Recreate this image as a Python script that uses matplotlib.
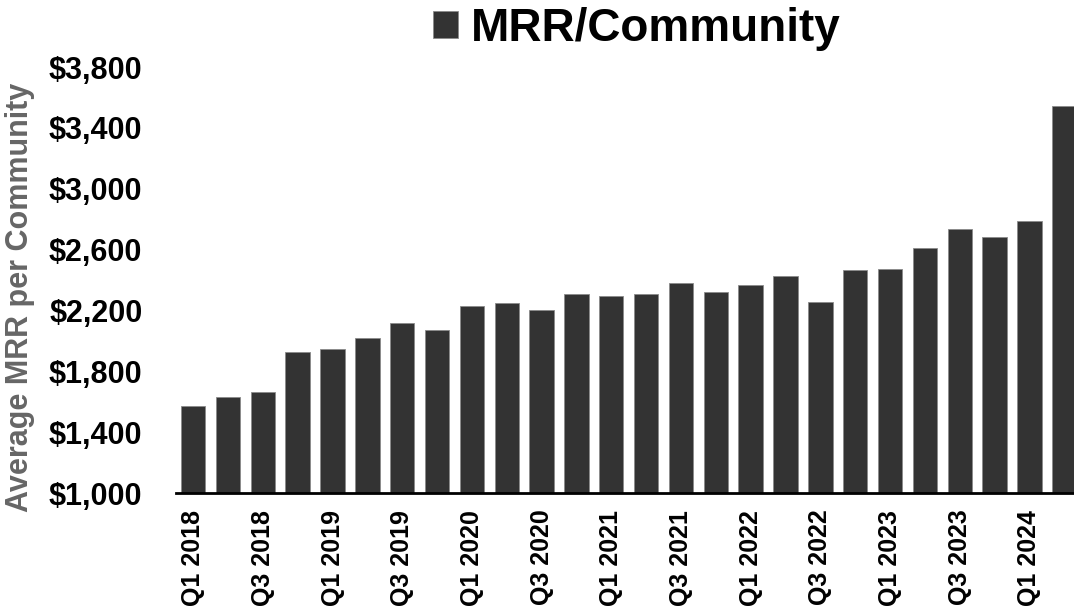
import matplotlib
matplotlib.use("Agg")
import matplotlib.pyplot as plt
from matplotlib.patches import Patch
from matplotlib.ticker import FuncFormatter

# Quarterly average MRR per community
quarters = [f"Q{q} {y}" for y in range(2018, 2025) for q in range(1, 5)][:26]
mrr = [1570, 1630, 1665, 1925, 1945, 2020, 2120, 2070, 2230, 2250, 2200,
       2310, 2295, 2310, 2380, 2320, 2365, 2425, 2255, 2465, 2475, 2610,
       2735, 2685, 2790, 3545]
y_ticks = [1000, 1400, 1800, 2200, 2600, 3000, 3400, 3800]

plt.rcParams["font.family"] = ["Liberation Sans", "DejaVu Sans"]

fig = plt.figure(figsize=(10.74, 6.11), dpi=100)
ax = fig.add_axes([0.1636, 0.1931, 0.8364, 0.6972])

x = list(range(len(mrr)))
ax.bar(x, mrr, width=0.7, color="#333333", edgecolor="#8a8a8a", linewidth=0.6)

ax.set_xlim(-0.5, 25.28)
ax.set_ylim(1000, 3800)
ax.set_yticks(y_ticks)
ax.yaxis.set_major_formatter(FuncFormatter(lambda v, p: f"${v:,.0f}"))
ax.set_xticks(x[::2])
ax.set_xticklabels(quarters[::2], rotation=90, fontsize=18, fontweight="bold")

for lab in ax.get_yticklabels():
    lab.set_fontweight("bold")
    lab.set_fontsize(22)

ax.tick_params(axis="y", length=0, pad=24)
ax.tick_params(axis="x", length=0, pad=12)

for side in ["top", "right", "left"]:
    ax.spines[side].set_visible(False)
ax.spines["bottom"].set_linewidth(2)
ax.spines["bottom"].set_color("black")

ax.set_ylabel("Average MRR per Community", fontsize=22, fontweight="bold",
              color="#666666")
ax.yaxis.set_label_coords(-0.157, 0.46)

handle = Patch(facecolor="#333333", edgecolor="#8a8a8a", linewidth=0.6)
fig.legend([handle], ["MRR/Community"], loc="center",
           bbox_to_anchor=(637 / 1074, 1 - 29 / 611), frameon=False,
           prop={"size": 33, "weight": "bold"},
           handlelength=0.54, handleheight=0.54, handletextpad=0.3,
           borderpad=0, borderaxespad=0)

fig.savefig("out.png", dpi=100)
